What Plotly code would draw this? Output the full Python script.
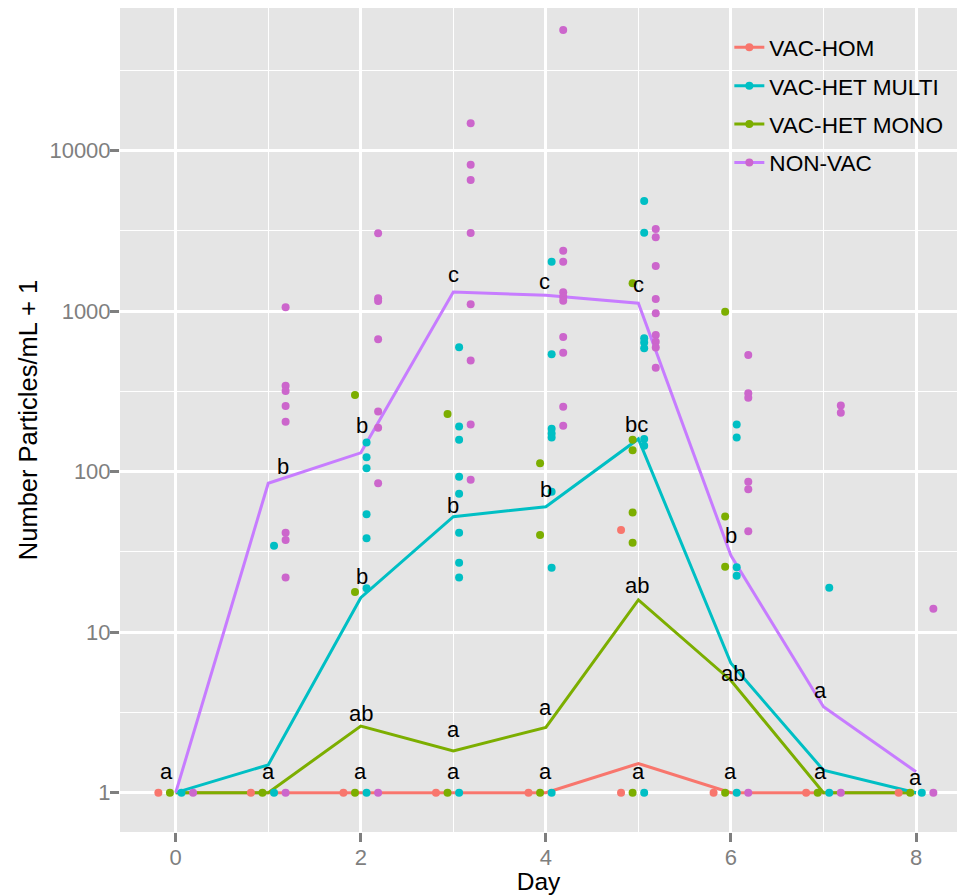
import numpy as np
import plotly.graph_objects as go

# ---------------- data ----------------
groups = ["VAC-HOM", "VAC-HET MULTI", "VAC-HET MONO", "NON-VAC"]
days = [0, 1, 2, 3, 4, 5, 6, 7, 8]

# mean lines (value + 1)
hom_mean = [1, 1, 1, 1, 1, 1.52, 1, 1, 1]
multi_mean = [1, 1.49, 16.4, 52.4, 60.5, 160, 6.4, 1.38, 1.0]
mono_mean = [1, 1, 2.6, 1.82, 2.55, 15.9, 5.0, 1.0, 1.0]
nonvac_mean = [1, 84.7, 131, 1318, 1256, 1120, 30, 3.43, 1.35]

# individual observations
hom_days = [0, 1, 2, 3, 4, 5, 5, 6, 7, 8]
hom_vals = [1, 1, 1, 1, 1, 1, 43.3, 1, 1, 1]

mono_days = [0, 1, 2, 2, 2, 3, 3, 4, 4, 4, 5, 5, 5, 5, 5, 5, 6, 6, 6, 6, 7, 8]
mono_vals = [1, 1, 1, 300, 17.8, 1, 229, 1, 113, 40.3,
             1, 1492, 158, 136, 55.6, 36.1, 1, 993, 52.5, 25.6, 1, 1]

multi_days = [0, 1, 1,
              2, 2, 2, 2, 2, 2, 2,
              3, 3, 3, 3, 3, 3, 3, 3, 3,
              4, 4, 4, 4, 4, 4, 4, 4,
              5, 5, 5, 5, 5, 5, 5, 5,
              6, 6, 6, 6, 6,
              7, 7, 8]
multi_vals = [1, 1, 34.6,
              1, 152, 123, 105, 54.3, 38.5, 18.8,
              1, 596, 191, 158, 93, 72.9, 41.7, 27.1, 21.9,
              1, 2032, 539, 185, 173, 163, 75, 25.2,
              1, 4860, 3085, 678, 637, 587, 160, 145,
              1, 197, 163, 25.4, 22.5,
              1, 18.9, 1]

nonvac_days = [0,
               1, 1, 1, 1, 1, 1, 1, 1, 1,
               2, 2, 2, 2, 2, 2, 2, 2,
               3, 3, 3, 3, 3, 3, 3, 3,
               4, 4, 4, 4, 4, 4, 4, 4, 4, 4,
               5, 5, 5, 5, 5, 5, 5, 5, 5,
               6, 6, 6, 6, 6, 6, 6,
               7, 7, 7,
               8, 8]
nonvac_vals = [1,
               1, 1058, 343, 318, 257, 205, 41.7, 37.5, 21.9,
               1, 3055, 1203, 1158, 668, 237, 188, 84.7,
               14800, 8180, 6560, 3070, 1104, 492, 197, 89,
               56500, 2383, 2032, 1312, 1230, 1162, 690, 551, 254, 193,
               3250, 2884, 1914, 1191, 970, 711, 646, 593, 444,
               1, 533, 308, 289, 86.7, 77.7, 42.5,
               1, 258, 233,
               1, 14.0]

# significance letters
label_text = ["a",
              "b", "a",
              "b", "b", "ab", "a",
              "c", "b", "a", "a",
              "c", "b", "a", "a",
              "c", "bc", "ab", "a",
              "b", "ab", "a",
              "a", "a",
              "a"]
label_x = [-0.1,
           1.16, 1.0,
           2.01, 2.01, 2.0, 2.0,
           3.0, 3.0, 3.0, 3.0,
           3.99, 4.0, 4.0, 4.0,
           5.0, 4.98, 4.99, 5.0,
           6.0, 6.02, 6.0,
           6.97, 6.97,
           7.99]
label_y = [1.35,
           107, 1.35,
           195, 22.2, 3.12, 1.35,
           1682, 62, 2.46, 1.35,
           1527, 76.9, 3.40, 1.35,
           1456, 197, 19.5, 1.35,
           39.8, 5.55, 1.35,
           4.32, 1.35,
           1.24]

x_ticks = [0, 2, 4, 6, 8]
y_ticks = [1, 10, 100, 1000, 10000]
y_ticktext = ["1", "10", "100", "1000", "10000"]

# ---------------- styling ----------------
line_col = {"VAC-HOM": "#F8766D", "VAC-HET MULTI": "#00BFC4",
            "VAC-HET MONO": "#7CAE00", "NON-VAC": "#C77CFF"}
pt_col = {"VAC-HOM": "#F8766D", "VAC-HET MULTI": "#00BFC4",
          "VAC-HET MONO": "#7CAE00", "NON-VAC": "#CC66CC"}
dodge = {"VAC-HOM": -0.1875, "VAC-HET MONO": -0.0625,
         "VAC-HET MULTI": 0.0625, "NON-VAC": 0.1875}

means = {"VAC-HOM": hom_mean, "VAC-HET MULTI": multi_mean,
         "VAC-HET MONO": mono_mean, "NON-VAC": nonvac_mean}
obs = {"VAC-HOM": (hom_days, hom_vals), "VAC-HET MULTI": (multi_days, multi_vals),
       "VAC-HET MONO": (mono_days, mono_vals), "NON-VAC": (nonvac_days, nonvac_vals)}

draw_order = ["VAC-HOM", "VAC-HET MONO", "VAC-HET MULTI", "NON-VAC"]
FONT = "Liberation Sans, Arial, sans-serif"

fig = go.Figure()

for g in draw_order:
    fig.add_trace(go.Scatter(x=days, y=means[g], mode="lines",
                             line=dict(color=line_col[g], width=3),
                             showlegend=False, hoverinfo="skip"))
for g in draw_order:
    d, v = obs[g]
    fig.add_trace(go.Scatter(x=[di + dodge[g] for di in d], y=v, mode="markers",
                             marker=dict(color=pt_col[g], size=8),
                             showlegend=False))

# legend entries
for i, g in enumerate(groups):
    fig.add_trace(go.Scatter(x=[None], y=[None], mode="lines+markers", name=g,
                             legendgroup=g, legendrank=i,
                             line=dict(color=line_col[g], width=3),
                             marker=dict(color=pt_col[g], size=8)))

for t, lx, ly in zip(label_text, label_x, label_y):
    fig.add_annotation(x=lx, y=np.log10(ly), text=t, showarrow=False,
                       font=dict(family=FONT, size=22, color="black"),
                       xanchor="center", yanchor="middle")

fig.update_layout(
    width=958, height=895,
    margin=dict(l=120, r=1, t=8, b=63),
    paper_bgcolor="white", plot_bgcolor="#E5E5E5",
    font=dict(family=FONT, size=22, color="black"),
    legend=dict(x=0.728, y=0.978, xanchor="left", yanchor="top",
                bgcolor="rgba(0,0,0,0)", borderwidth=0,
                traceorder="grouped", tracegroupgap=6,
                font=dict(family=FONT, size=22.6, color="black")),
    xaxis=dict(range=[-0.602, 8.443], tickvals=x_ticks,
               showgrid=True, gridcolor="white", gridwidth=2.6, zeroline=False,
               minor=dict(tickvals=[1, 3, 5, 7], showgrid=True,
                          gridcolor="white", gridwidth=1.1),
               ticks="outside", ticklen=9, tickwidth=2.5, tickcolor="#7F7F7F",
               tickfont=dict(family=FONT, size=22, color="#7F7F7F"),
               ticklabelstandoff=-3,
               title=dict(text="Day", font=dict(family=FONT, size=24.5, color="black"),
                          standoff=4),
               showline=False),
    yaxis=dict(type="log", range=[-0.245, 4.889], tickvals=y_ticks,
               ticktext=y_ticktext,
               showgrid=True, gridcolor="white", gridwidth=2.6, zeroline=False,
               minor=dict(tickvals=[10 ** 0.5, 10 ** 1.5, 10 ** 2.5, 10 ** 3.5, 10 ** 4.5],
                          showgrid=True, gridcolor="white", gridwidth=1.1),
               ticks="outside", ticklen=9, tickwidth=2.5, tickcolor="#7F7F7F",
               tickfont=dict(family=FONT, size=22, color="#7F7F7F"),
               ticklabelstandoff=-5,
               title=dict(text="Number Particles/mL + 1",
                          font=dict(family=FONT, size=25.5, color="black"),
                          standoff=4),
               showline=False),
)

fig.write_html("out.html", config={"displayModeBar": False},
               post_script="document.body.style.margin='0';")
